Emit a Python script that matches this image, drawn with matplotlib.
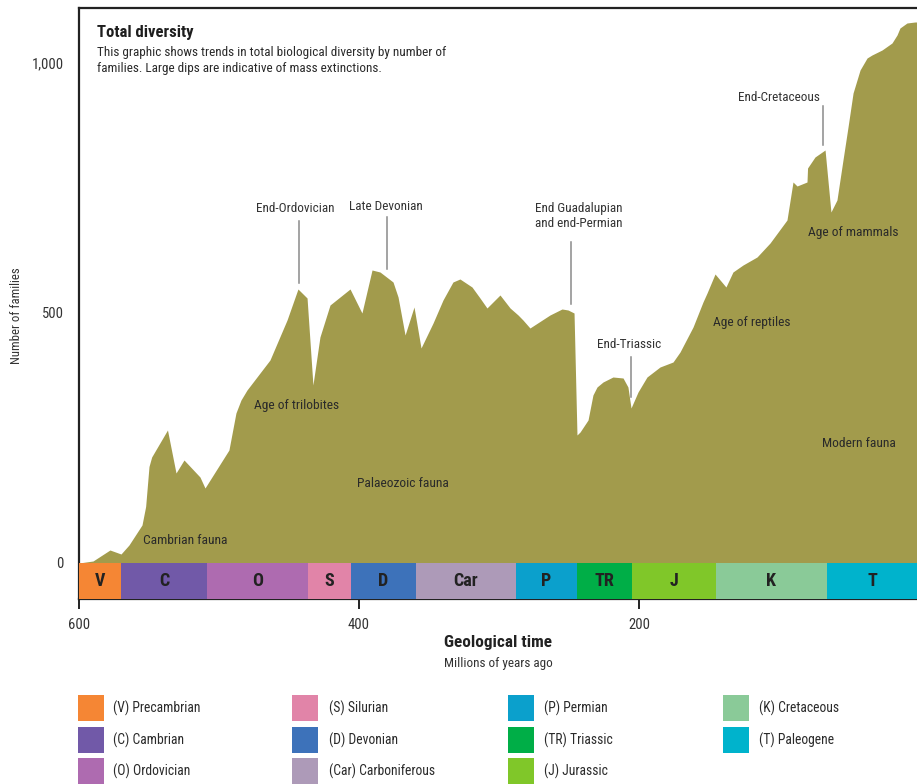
import matplotlib
matplotlib.use("Agg")
import matplotlib.pyplot as plt
from matplotlib import font_manager
from matplotlib.patches import Rectangle

# 폰트 선택 (좁은 폭 글꼴 우선)
installed = {f.name for f in font_manager.fontManager.ttflist}
narrow = next((n for n in ['Liberation Sans Narrow', 'Roboto Condensed', 'Open Sans Condensed',
                           'Liberation Sans', 'DejaVu Sans'] if n in installed), 'DejaVu Sans')
plt.rcParams['font.family'] = [narrow, 'DejaVu Sans']

# 시간(백만년 전)별 과(family) 수
ma = [600, 590, 577.9, 570, 564.3, 555, 552.4, 550, 548.1, 536.8, 530.7, 525, 513.6, 510,
      492.9, 487.9, 484.3, 480, 463.6, 451.4, 443.6, 437.1, 432.9, 427.9, 420.7, 406.4,
      397.9, 390.7, 385, 375.7, 372.1, 367.1, 360.7, 355.7, 347.1, 340, 332.9, 327.9,
      319.3, 313.6, 308.6, 299.3, 292.1, 286.4, 282.9, 277.9, 263.6, 255, 250.7, 246.4,
      244.3, 242.1, 236.4, 232.9, 230, 225.7, 218.6, 211.4, 207.9, 205.7, 200.7, 194.3,
      185, 175.7, 170.7, 161.4, 154.3, 151.4, 145.7, 137.9, 132.9, 125.7, 115.7, 106.4,
      94.3, 90, 87.1, 80, 79.6, 74.3, 67.1, 62.9, 58.6, 54.3, 50.7, 47.1, 42.1, 37.1,
      33.6, 26.4, 19.3, 15.7, 13.6, 8.6, 2.9, 0]
families = [0, 4, 26, 18, 36, 76, 113, 193, 212, 266, 180, 206, 172, 150,
            226, 300, 326, 346, 406, 486, 548, 530, 356, 452, 516, 548,
            500, 586, 582, 562, 532, 456, 512, 430, 480, 526, 562, 568,
            552, 530, 510, 536, 510, 496, 486, 470, 496, 508, 506, 500,
            256, 262, 286, 336, 352, 362, 372, 370, 352, 310, 342, 372,
            392, 402, 422, 472, 522, 540, 578, 552, 582, 596, 612, 640,
            686, 762, 754, 762, 790, 812, 826, 702, 726, 806, 872, 940, 986, 1010,
            1016, 1026, 1040, 1056, 1070, 1080, 1082, 1082]

# 지질 시대 구분 (시작/끝, 백만년 전)
period_codes = ['V', 'C', 'O', 'S', 'D', 'Car', 'P', 'TR', 'J', 'K', 'T']
period_names = ['Precambrian', 'Cambrian', 'Ordovician', 'Silurian', 'Devonian', 'Carboniferous',
                'Permian', 'Triassic', 'Jurassic', 'Cretaceous', 'Paleogene']
period_start = [600, 570, 508.6, 436.4, 405.7, 359.3, 288, 244.5, 205.2, 145, 66]
period_end = [570, 508.6, 436.4, 405.7, 359.3, 288, 244.5, 205.2, 145, 66, 0]
period_colors = ['#F58634', '#7159A8', '#AE6BB0', '#E184A8', '#3D72BA', '#AD9AB8',
                 '#0BA0CC', '#00AE47', '#80C729', '#8ACA98', '#00B3CC']

# 대멸종 주석 (텍스트 위치, 지시선)
event_labels = ['End-Ordovician', 'Late Devonian', 'End Guadalupian\nand end-Permian',
                'End-Triassic', 'End-Cretaceous']
event_text_x = [445.7, 380.7, 243.2, 207.4, 100.2]
event_text_y = [710, 712, 694, 438, 931]
event_line_x = [442.9, 380.2, 248.8, 205.7, 68.8]
event_line_top = [684, 692, 642, 412, 915]
event_line_bottom = [560, 588, 518, 332, 836]

# 영역 라벨
fauna_labels = ['Cambrian fauna', 'Age of trilobites', 'Palaeozoic fauna', 'Age of reptiles',
                'Modern fauna', 'Age of mammals']
fauna_x = [523.9, 444.5, 368.7, 119.5, 42.6, 46.7]
fauna_y = [46, 316, 159, 481, 239, 661]

olive = '#A29B4C'
W, H = 917, 784
fig = plt.figure(figsize=(W / 100, H / 100), dpi=100, facecolor='white')
ax = fig.add_axes([79 / W, (H - 599) / H, 840 / W, 591 / H])

ax.fill_between(ma, families, 0, color=olive, linewidth=0, zorder=2)

# 시대 띠
for code, s, e, c in zip(period_codes, period_start, period_end, period_colors):
    ax.bar(e, -72, width=s - e, bottom=0, align='edge', color=c, linewidth=0, zorder=3)
    ax.text((s + e) / 2, -36, code, ha='center', va='center', fontsize=13,
            fontweight='bold', color='#222222', zorder=4)

for lab, tx, ty, lx, lt, lb in zip(event_labels, event_text_x, event_text_y,
                                   event_line_x, event_line_top, event_line_bottom):
    ax.text(tx, ty, lab, ha='center', va='center', fontsize=9.5, color='#333333',
            linespacing=1.15, zorder=5)
    ax.plot([lx, lx], [lt, lb], color='#8A8A8A', linewidth=1.1, zorder=5)

for lab, fx, fy in zip(fauna_labels, fauna_x, fauna_y):
    ax.text(fx, fy, lab, ha='center', va='center', fontsize=9.7, color='#2A2A2A', zorder=5)

ax.set_xlim(600, 0)
ax.set_ylim(-72, 1110)
ax.set_xticks([600, 400, 200])
ax.set_yticks([0, 500, 1000])
ax.set_yticklabels(['0', '500', '1,000'])
ax.tick_params(axis='y', length=0, pad=11, labelsize=10.5, labelcolor='#333333')
ax.tick_params(axis='x', length=7, width=1.4, color='#222222', pad=6.5,
               labelsize=10.5, labelcolor='#333333')
for side in ['left', 'bottom', 'top']:
    ax.spines[side].set_color('#222222')
    ax.spines[side].set_linewidth(1.6)
ax.spines['right'].set_visible(False)

# 제목, 설명
fig.text(97 / W, 1 - 33 / H, 'Total diversity', fontsize=12, fontweight='bold',
         color='#1E1E1E', ha='left', va='center')
fig.text(97 / W, 1 - 60.5 / H,
         'This graphic shows trends in total biological diversity by number of\n'
         'families. Large dips are indicative of mass extinctions.',
         fontsize=9.5, color='#2A2A2A', ha='left', va='center', linespacing=1.25)

# 축 제목
fig.text(17 / W, 1 - 316 / H, 'Number of families', rotation=90, fontsize=9.2,
         color='#333333', ha='center', va='center')
fig.text(498 / W, 1 - 642 / H, 'Geological time', fontsize=12.3, fontweight='bold',
         color='#222222', ha='center', va='center')
fig.text(498 / W, 1 - 664 / H, 'Millions of years ago', fontsize=9.5,
         color='#333333', ha='center', va='center')

# 범례 (열 우선 배치)
col_box_x = [78, 292, 508, 723]
col_text_x = [113, 329, 544, 759]
row_y = [708, 740, 771]
for i, (code, name, c) in enumerate(zip(period_codes, period_names, period_colors)):
    col, row = i // 3, i % 3
    bx, by = col_box_x[col], row_y[row]
    fig.patches.append(Rectangle((bx / W, 1 - (by + 13) / H), 26 / W, 26 / H,
                                 transform=fig.transFigure, color=c, linewidth=0))
    fig.text(col_text_x[col] / W, 1 - by / H, f'({code}) {name}', fontsize=9.8,
             color='#2A2A2A', ha='left', va='center')

fig.savefig('out.png', dpi=100, facecolor='white')
